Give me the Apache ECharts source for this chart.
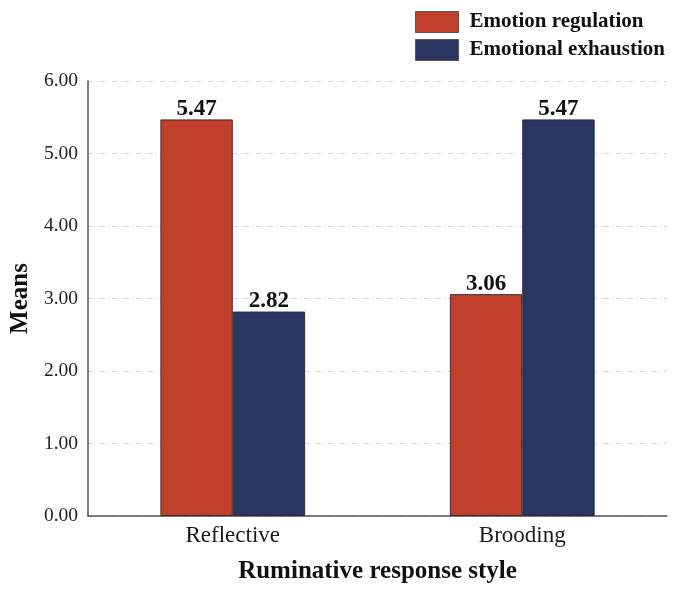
<!DOCTYPE html>
<html><head><meta charset="utf-8">
<script src="https://cdn.jsdelivr.net/npm/echarts@6/dist/echarts.min.js"></script>
<style>html,body{margin:0;padding:0;background:#fff}#c{width:673px;height:590px}</style>
</head><body><div id="c"></div>
<script>
const categories = ['Reflective', 'Brooding'];
const emotionRegulation = [5.47, 3.06];
const emotionalExhaustion = [2.82, 5.47];
const seriesNames = ['Emotion regulation', 'Emotional exhaustion'];
const yTicks = [0, 1, 2, 3, 4, 5, 6];

const FONT = '"Liberation Serif", "Times New Roman", serif';
const chart = echarts.init(document.getElementById('c'));
const labelCfg = {
  show: true, position: 'top', distance: -1,
  fontFamily: FONT, fontWeight: 'bold', fontSize: 23, color: '#111',
  formatter: p => p.value.toFixed(2)
};
chart.setOption({
  animation: false,
  backgroundColor: '#fff',
  grid: { left: 84, right: 6, top: 81, bottom: 74, containLabel: false },
  legend: {
    orient: 'vertical', left: 410, top: 6, icon: 'rect',
    itemWidth: 43, itemHeight: 21, itemGap: 6,
    itemStyle: { borderColor: '#555', borderWidth: 1 },
    textStyle: { fontFamily: FONT, fontWeight: 'bold', fontSize: 21, color: '#111', padding: [0, 0, 0, 6] },
    data: seriesNames
  },
  xAxis: {
    type: 'category', data: categories,
    name: 'Ruminative response style', nameLocation: 'middle', nameGap: 43,
    nameTextStyle: { fontFamily: FONT, fontWeight: 'bold', fontSize: 25, color: '#111' },
    axisLine: { lineStyle: { color: '#555', width: 1.5 } },
    axisTick: { show: false },
    axisLabel: { fontFamily: FONT, fontSize: 23, color: '#1a1a1a', margin: 8 }
  },
  yAxis: {
    type: 'value', min: yTicks[0], max: yTicks[yTicks.length - 1], interval: 1,
    name: 'Means', nameLocation: 'middle', nameGap: 45,
    nameTextStyle: { fontFamily: FONT, fontWeight: 'bold', fontSize: 25, color: '#111' },
    axisLine: { show: true, lineStyle: { color: '#555', width: 1.5 } },
    axisTick: { show: false },
    axisLabel: { fontFamily: FONT, fontSize: 19.5, color: '#222', margin: 10, formatter: v => v.toFixed(2) },
    splitLine: { show: true, lineStyle: { color: '#d2d2d2', width: 1, type: [5, 3, 1, 3] } }
  },
  series: [
    {
      name: seriesNames[0], type: 'bar', data: emotionRegulation,
      barGap: '0%', barCategoryGap: '50%',
      itemStyle: { color: '#C1402B', borderColor: '#3a2a2a', borderWidth: 1 },
      label: labelCfg
    },
    {
      name: seriesNames[1], type: 'bar', data: emotionalExhaustion,
      barGap: '0%', barCategoryGap: '50%',
      itemStyle: { color: '#2B3562', borderColor: '#2a2a3a', borderWidth: 1 },
      label: labelCfg
    }
  ]
});
</script></body></html>
